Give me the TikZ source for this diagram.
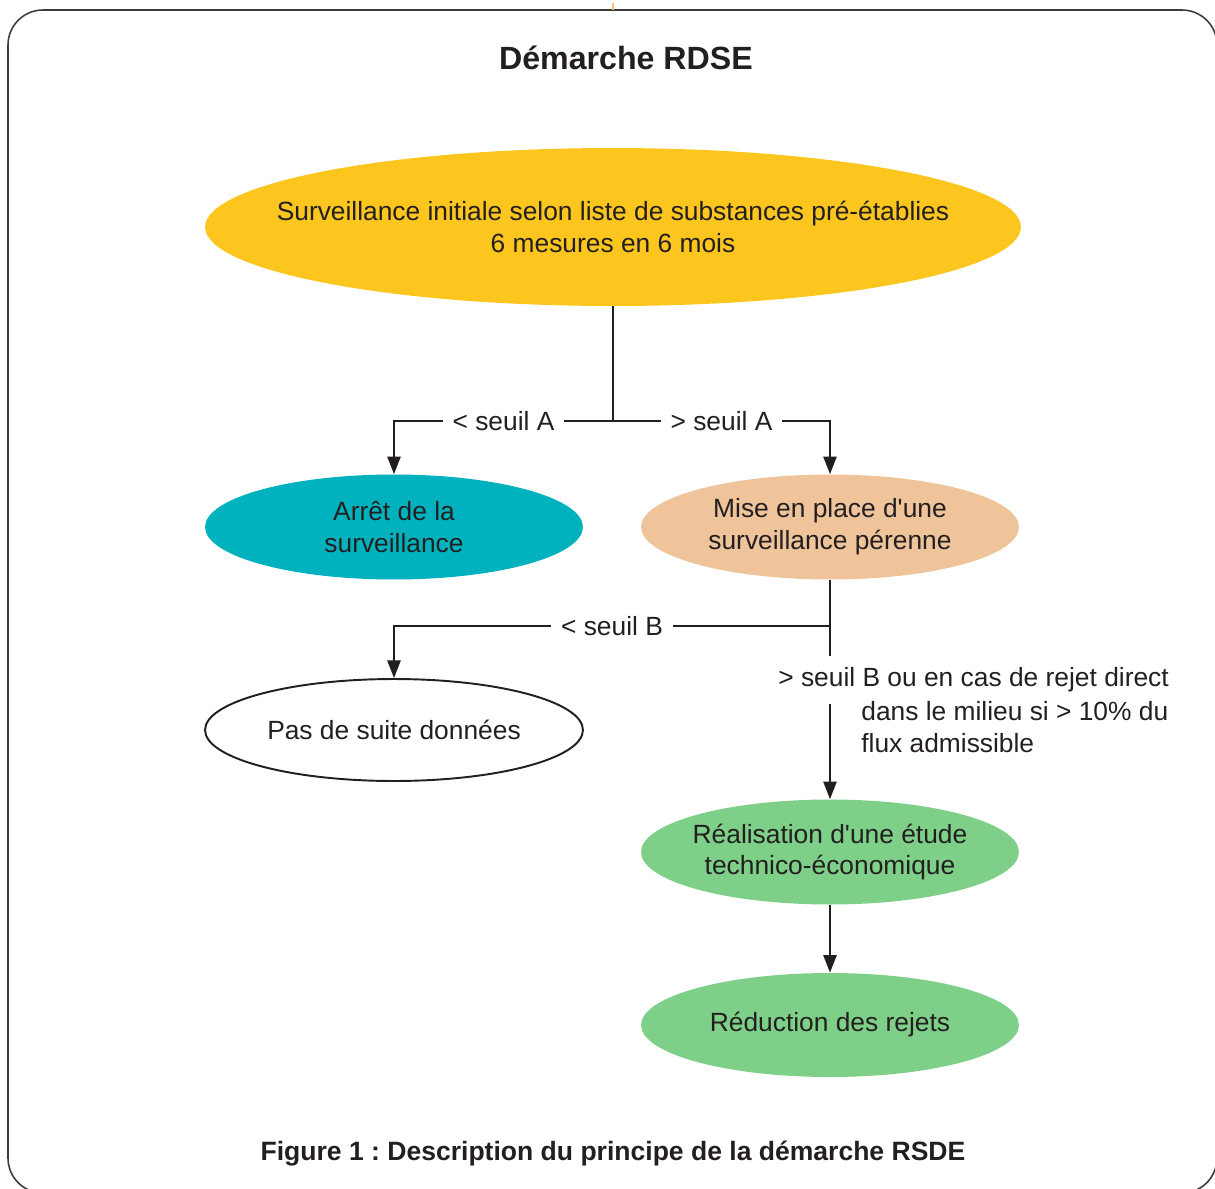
\documentclass[tikz,border=0pt]{standalone}
\usepackage{fontspec}
\setmainfont{Liberation Sans}
\usepackage{xcolor}
\usetikzlibrary{arrows.meta,shapes.geometric}
\definecolor{rdInk}{RGB}{35,31,32}
\definecolor{rdYellow}{RGB}{252,198,30}
\definecolor{rdTeal}{RGB}{0,178,189}
\definecolor{rdPeach}{RGB}{240,196,155}
\definecolor{rdGreen}{RGB}{126,207,135}
\definecolor{rdFrame}{RGB}{60,60,60}
\definecolor{rdTick}{RGB}{253,190,110}
\newcommand{\rdfont}{\fontsize{15pt}{18.1pt}\selectfont}
\newcommand{\rdhead}{\fontsize{15.1pt}{18pt}\selectfont\bfseries}
\frenchspacing

\begin{document}
\begin{tikzpicture}[x=0.02cm,y=-0.02cm,
  bubble/.style={ellipse,draw=none,align=center,text=rdInk,font=\rdfont,
    inner xsep=-4pt,inner ysep=0pt,minimum width=7.56cm,minimum height=2.1cm},
  link/.style={draw=rdInk,line width=1.1pt},
  arr/.style={link,-{Triangle[length=10pt,width=7.5pt]}},
  cut/.style={fill=white,text=rdInk,font=\rdfont,inner xsep=5.5pt,inner ysep=2pt}]
  \useasboundingbox (0,0) rectangle (1215,1188);
  \clip (0,0) rectangle (1215,1188);
  % frame
  \draw[draw=rdFrame,line width=0.9pt,rounded corners=0.7cm] (8,10) rectangle (1217,1193);
  \draw[draw=rdTick,line width=1.2pt] (613,3) -- (613,10);
  \node[text=rdInk,font=\fontsize{18.3pt}{22pt}\selectfont\bfseries] (titre) at (626,58) {Démarche RDSE};

  % bulles
  \node[bubble,fill=rdYellow,inner xsep=-30pt,minimum width=16.32cm,minimum height=3.16cm] (init) at (613,227)
    {Surveillance initiale selon liste de substances pré-établies\\6 mesures en 6 mois};
  \node[bubble,fill=rdTeal] (arret) at (394,527) {Arrêt de la\\surveillance};
  \node[bubble,fill=rdPeach] (mise) at (830,527) {Mise en place d\textquotesingle une\\surveillance pérenne};
  \node[bubble,fill=white,draw=rdInk,line width=1.1pt,minimum height=2.04cm] (suite) at (394,730)
    {Pas de suite données};
  \node[bubble,fill=rdGreen] (etude) at (830,852) {Réalisation d\textquotesingle une étude\\technico-économique};
  \node[bubble,fill=rdGreen,minimum height=2.08cm] (reduc) at (830,1025) {Réduction des rejets};

  % seuil A
  \coordinate (splitA) at (613,421);
  \draw[link] (init.south) -- (splitA);
  \draw[arr] (splitA) -- node[cut] {< seuil A} (splitA -| arret) -- (arret.north);
  \draw[arr] (splitA) -- node[cut] {> seuil A} (splitA -| mise) -- (mise.north);

  % seuil B
  \coordinate (splitB) at (830,626);
  \draw[arr] (mise.south) -- (etude.north);
  \draw[arr] (splitB) -- node[cut] {< seuil B} (splitB -| suite) -- (suite.north);
  \node[cut,anchor=west,inner xsep=0pt,inner ysep=6.8pt] (haut) at (778,680)
    {> seuil B ou en cas de rejet direct};
  \node[anchor=west,align=left,text=rdInk,font=\rdfont,inner sep=0pt] (bas) at (861,727)
    {dans le milieu si > 10\% du\\flux admissible};

  \draw[arr] (etude.south) -- (reduc.north);

  \node[text=rdInk,font=\rdhead] (legende) at (613,1154)
    {Figure 1 : Description du principe de la démarche RSDE};
\end{tikzpicture}
\end{document}
